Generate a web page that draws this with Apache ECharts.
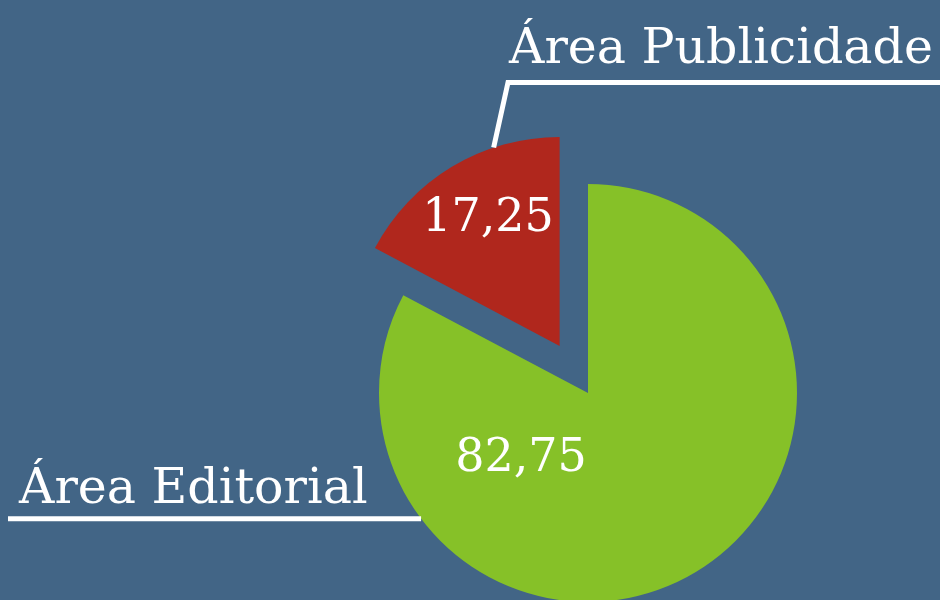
<!DOCTYPE html>
<html>
<head>
<meta charset="utf-8">
<script src="https://cdn.jsdelivr.net/npm/echarts@6/dist/echarts.min.js"></script>
<style>
  html, body { margin: 0; padding: 0; background: #426586; }
  #chart { width: 940px; height: 600px; }
</style>
</head>
<body>
<div id="chart"></div>
<script>
var categories = ['Área Editorial', 'Área Publicidade']
var values = [82.75, 17.25]
var colors = ['#86c128', '#b0271d']

var CX = 588, CY = 393, R = 209, OFFSET = 55
var FONT = 'DejaVu Serif'

// ponto na borda da fatia (angulo em graus, sentido horario a partir do topo)
function edgePoint(angle, dx, dy) {
  var a = angle * Math.PI / 180
  return [CX + dx + R * Math.sin(a), CY + dy - R * Math.cos(a)]
}

function fmt(v) {
  return v.toFixed(2).replace('.', ',')
}

// deslocamento da fatia destacada (publicidade)
var total = values[0] + values[1]
var midRed = (values[0] + values[1] / 2) / total * 360
var offX = OFFSET * Math.sin(midRed * Math.PI / 180)
var offY = -OFFSET * Math.cos(midRed * Math.PI / 180)

// posicao dos valores dentro das fatias
var valuePos = [[521, 459], [488, 219]]

// uma serie por fatia visivel, a outra fica transparente para manter os angulos
function slicePie(idx, center) {
  return {
    type: 'pie',
    silent: true,
    center: center,
    radius: R,
    startAngle: 90,
    label: {
      show: true,
      position: 'inside',
      color: '#fff',
      fontFamily: FONT,
      fontSize: 46,
      formatter: function (p) { return fmt(p.value) }
    },
    labelLine: { show: false },
    labelLayout: function (p) {
      var pos = valuePos[p.dataIndex]
      return { x: pos[0], y: pos[1], align: 'center', verticalAlign: 'middle' }
    },
    data: categories.map(function (name, i) {
      return {
        name: name,
        value: values[i],
        itemStyle: { color: i === idx ? colors[i] : 'rgba(0,0,0,0)' },
        label: { show: i === idx }
      }
    })
  }
}

var chart = echarts.init(document.getElementById('chart'))
chart.setOption({
  backgroundColor: '#426586',
  animation: false,
  series: [
    slicePie(0, [CX, CY]),
    slicePie(1, [CX + offX, CY + offY]),
    {
      type: 'pie',
      silent: true,
      center: [CX, CY],
      radius: R,
      startAngle: 90,
      z: 3,
      itemStyle: { color: 'rgba(0,0,0,0)' },
      label: {
        show: true,
        position: 'outside',
        alignTo: 'none',
        overflow: 'none',
        color: '#fff',
        fontFamily: FONT,
        fontSize: 49,
        formatter: '{b}'
      },
      labelLine: {
        show: true,
        lineStyle: { color: '#fff', width: 5 }
      },
      labelLayout: function (p) {
        if (p.dataIndex === 0) {
          var s = edgePoint(233, 0, 0)
          return {
            x: 19, y: 490, align: 'left', verticalAlign: 'middle',
            labelLinePoints: [s, [s[0] - 1, s[1]], [8, s[1]]]
          }
        }
        var t = edgePoint(341.6, offX, offY)
        return {
          x: 509, y: 50, align: 'left', verticalAlign: 'middle',
          labelLinePoints: [t, [508, 82.5], [940, 82.5]]
        }
      },
      data: categories.map(function (name, i) {
        return { name: name, value: values[i] }
      })
    }
  ]
})
</script>
</body>
</html>
